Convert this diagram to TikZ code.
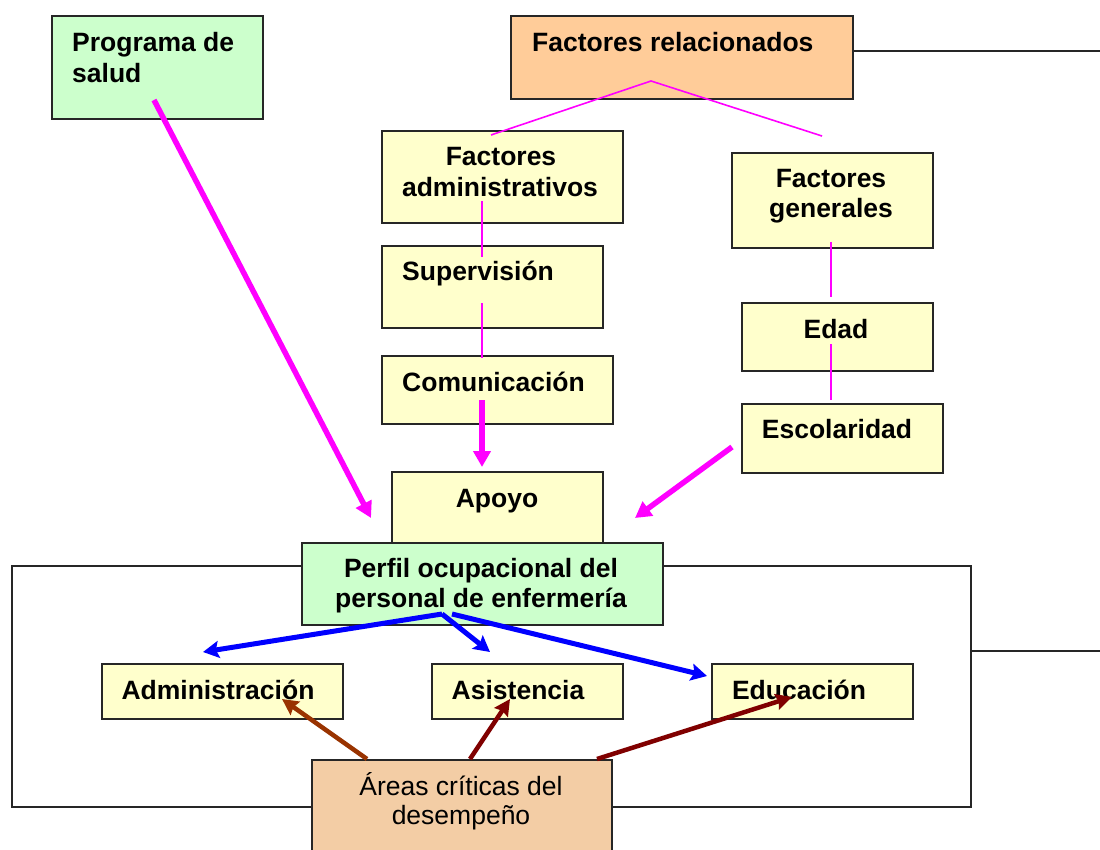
\documentclass[tikz,border=0pt]{standalone}
\usepackage{fontspec}
\setmainfont{Liberation Sans}
\usetikzlibrary{arrows.meta}
\definecolor{yel}{HTML}{FFFFCC}
\definecolor{grn}{HTML}{CCFFCC}
\definecolor{org}{HTML}{FFCC99}
\definecolor{peach}{HTML}{F3CDA5}
\definecolor{pnk}{HTML}{FF00FF}
\definecolor{blu}{HTML}{0000FF}
\definecolor{brA}{HTML}{993300}
\definecolor{brB}{HTML}{800000}
\tikzset{
  box/.style={draw=black!85, line width=1.6pt, rectangle, inner sep=0pt, anchor=north west},
  t/.style={inner sep=0pt, font=\fontsize{26.5}{30}\selectfont\bfseries},
  tr/.style={inner sep=0pt, font=\fontsize{26.5}{30}\selectfont},
  thinpink/.style={draw=pnk, line width=1.6pt},
  pinkarrow/.style={draw=pnk, line width=5.5pt, -{Triangle[length=16pt,width=17pt]}},
  bluearrow/.style={draw=blu, line width=5pt, -{Stealth[length=16pt,width=17pt,inset=3pt]}},
  brownarrow/.style={line width=4.5pt, -{Stealth[length=16pt,width=16pt,inset=2pt]}},
  frame/.style={draw=black!85, line width=1.5pt}
}
\begin{document}
\begin{tikzpicture}[x=1pt,y=-1pt]
\useasboundingbox (0,0) rectangle (1100,850);
\clip (0,0) rectangle (1100,850);
\fill[white] (0,0) rectangle (1100,850);

% frame and side lines
\draw[frame] (12,566) rectangle (971,807);
\coordinate (rline) at (1100,651);
\coordinate (rframe) at (971,651);
\draw[frame] (rframe) -- (rline);

% boxes
\node[box, fill=grn, minimum width=211, minimum height=103] (prog) at (51,15) {};
\node[box, fill=org, minimum width=342, minimum height=83] (frel) at (510,15) {};
\coordinate (topright) at (1100,51);
\draw[frame] (frel.east |- topright) -- (topright);
\node[box, fill=yel, minimum width=241, minimum height=92] (fadm) at (381,130) {};
\node[box, fill=yel, minimum width=221, minimum height=82] (sup) at (381,245) {};
\node[box, fill=yel, minimum width=231, minimum height=68] (com) at (381,355) {};
\node[box, fill=yel, minimum width=201, minimum height=95] (fgen) at (731,152) {};
\node[box, fill=yel, minimum width=191, minimum height=68] (edad) at (741,302) {};
\node[box, fill=yel, minimum width=201, minimum height=69] (esc) at (741,403) {};
\node[box, fill=yel, minimum width=211, minimum height=80] (apoyo) at (391,471) {};
\node[box, fill=grn, minimum width=361, minimum height=82] (perfil) at (301,542) {};
\node[box, fill=yel, minimum width=241, minimum height=55] (admin) at (101,663) {};
\node[box, fill=yel, minimum width=191, minimum height=55] (asist) at (431,663) {};
\node[box, fill=yel, minimum width=201, minimum height=55] (educ) at (711,663) {};
\node[box, fill=peach, minimum width=300, minimum height=110] (areas) at (311,759) {};

% texts
\node[t, anchor=base west] (prog1) at (72,52) {Programa de};
\node[t, anchor=base west] (prog2) at (72,83) {salud};
\node[t, anchor=base west] (frel1) at (532,52) {Factores relacionados};
\node[t, anchor=base] (fadm1) at (501,166) {Factores};
\node[t, anchor=base] (fadm2) at (500,197) {administrativos};
\node[t, anchor=base west] (sup1) at (402,281) {Supervisión};
\node[t, anchor=base west] (com1) at (402,391) {Comunicación};
\node[t, anchor=base] (fgen1) at (831,188) {Factores};
\node[t, anchor=base] (fgen2) at (831,218) {generales};
\node[t, anchor=base] (edad1) at (836,338) {Edad};
\node[t, anchor=base] (esc1) at (837,438) {Escolaridad};
\node[t, anchor=base] (apoyo1) at (497,507) {Apoyo};
\node[t, anchor=base] (perfil1) at (481,577) {Perfil ocupacional del};
\node[t, anchor=base] (perfil2) at (481,607) {personal de enfermería};
\node[t, anchor=base] (admin1) at (218,699) {Administración};
\node[t, anchor=base] (asist1) at (518,699) {Asistencia};
\node[t, anchor=base] (educ1) at (799,699) {Educación};
\node[tr, anchor=base] (areas1) at (461,795) {Áreas críticas del};
\node[tr, anchor=base] (areas2) at (461,824) {desempeño};

% connector points
\coordinate (apex) at (651,81);
\coordinate (faTop) at (491,135);
\coordinate (fgTop) at (822,136);
\coordinate (faLow) at (482,201);
\coordinate (supTop) at (482,257);
\coordinate (supLow) at (482,303);
\coordinate (comTop) at (482,358);
\coordinate (fgLow) at (831,242);
\coordinate (edTop) at (831,297);
\coordinate (edLow) at (831,344);
\coordinate (esTop) at (831,400);
\coordinate (progS) at (154,100);
\coordinate (progE) at (371,518);
\coordinate (comS) at (482,400);
\coordinate (comE) at (482,467);
\coordinate (escS) at (732,447);
\coordinate (escE) at (635,518);
\coordinate (pfA) at (442,614);
\coordinate (pfB) at (452,614);
\coordinate (adTip) at (203,652);
\coordinate (asTip) at (490,652);
\coordinate (edTip) at (707,676);
\coordinate (arA) at (367,759);
\coordinate (arB) at (470,759);
\coordinate (arC) at (597,759);
\coordinate (adIn) at (282,699);
\coordinate (asIn) at (510,699);
\coordinate (edIn) at (792,697);

% thin pink
\draw[thinpink] (faTop) -- (apex) -- (fgTop);
\draw[thinpink] (faLow) -- (supTop);
\draw[thinpink] (supLow) -- (comTop);
\draw[thinpink] (fgLow) -- (edTop);
\draw[thinpink] (edLow) -- (esTop);

% pink arrows
\draw[pinkarrow] (progS) -- (progE);
\draw[pinkarrow] (comS) -- (comE);
\draw[pinkarrow] (escS) -- (escE);

% blue arrows
\draw[bluearrow] (pfA) -- (adTip);
\draw[bluearrow] (pfA) -- (asTip);
\draw[bluearrow] (pfB) -- (edTip);

% brown arrows
\draw[brownarrow, draw=brA, fill=brA] (arA) -- (adIn);
\draw[brownarrow, draw=brB, fill=brB] (arB) -- (asIn);
\draw[brownarrow, draw=brB, fill=brB] (arC) -- (edIn);
\end{tikzpicture}
\end{document}
